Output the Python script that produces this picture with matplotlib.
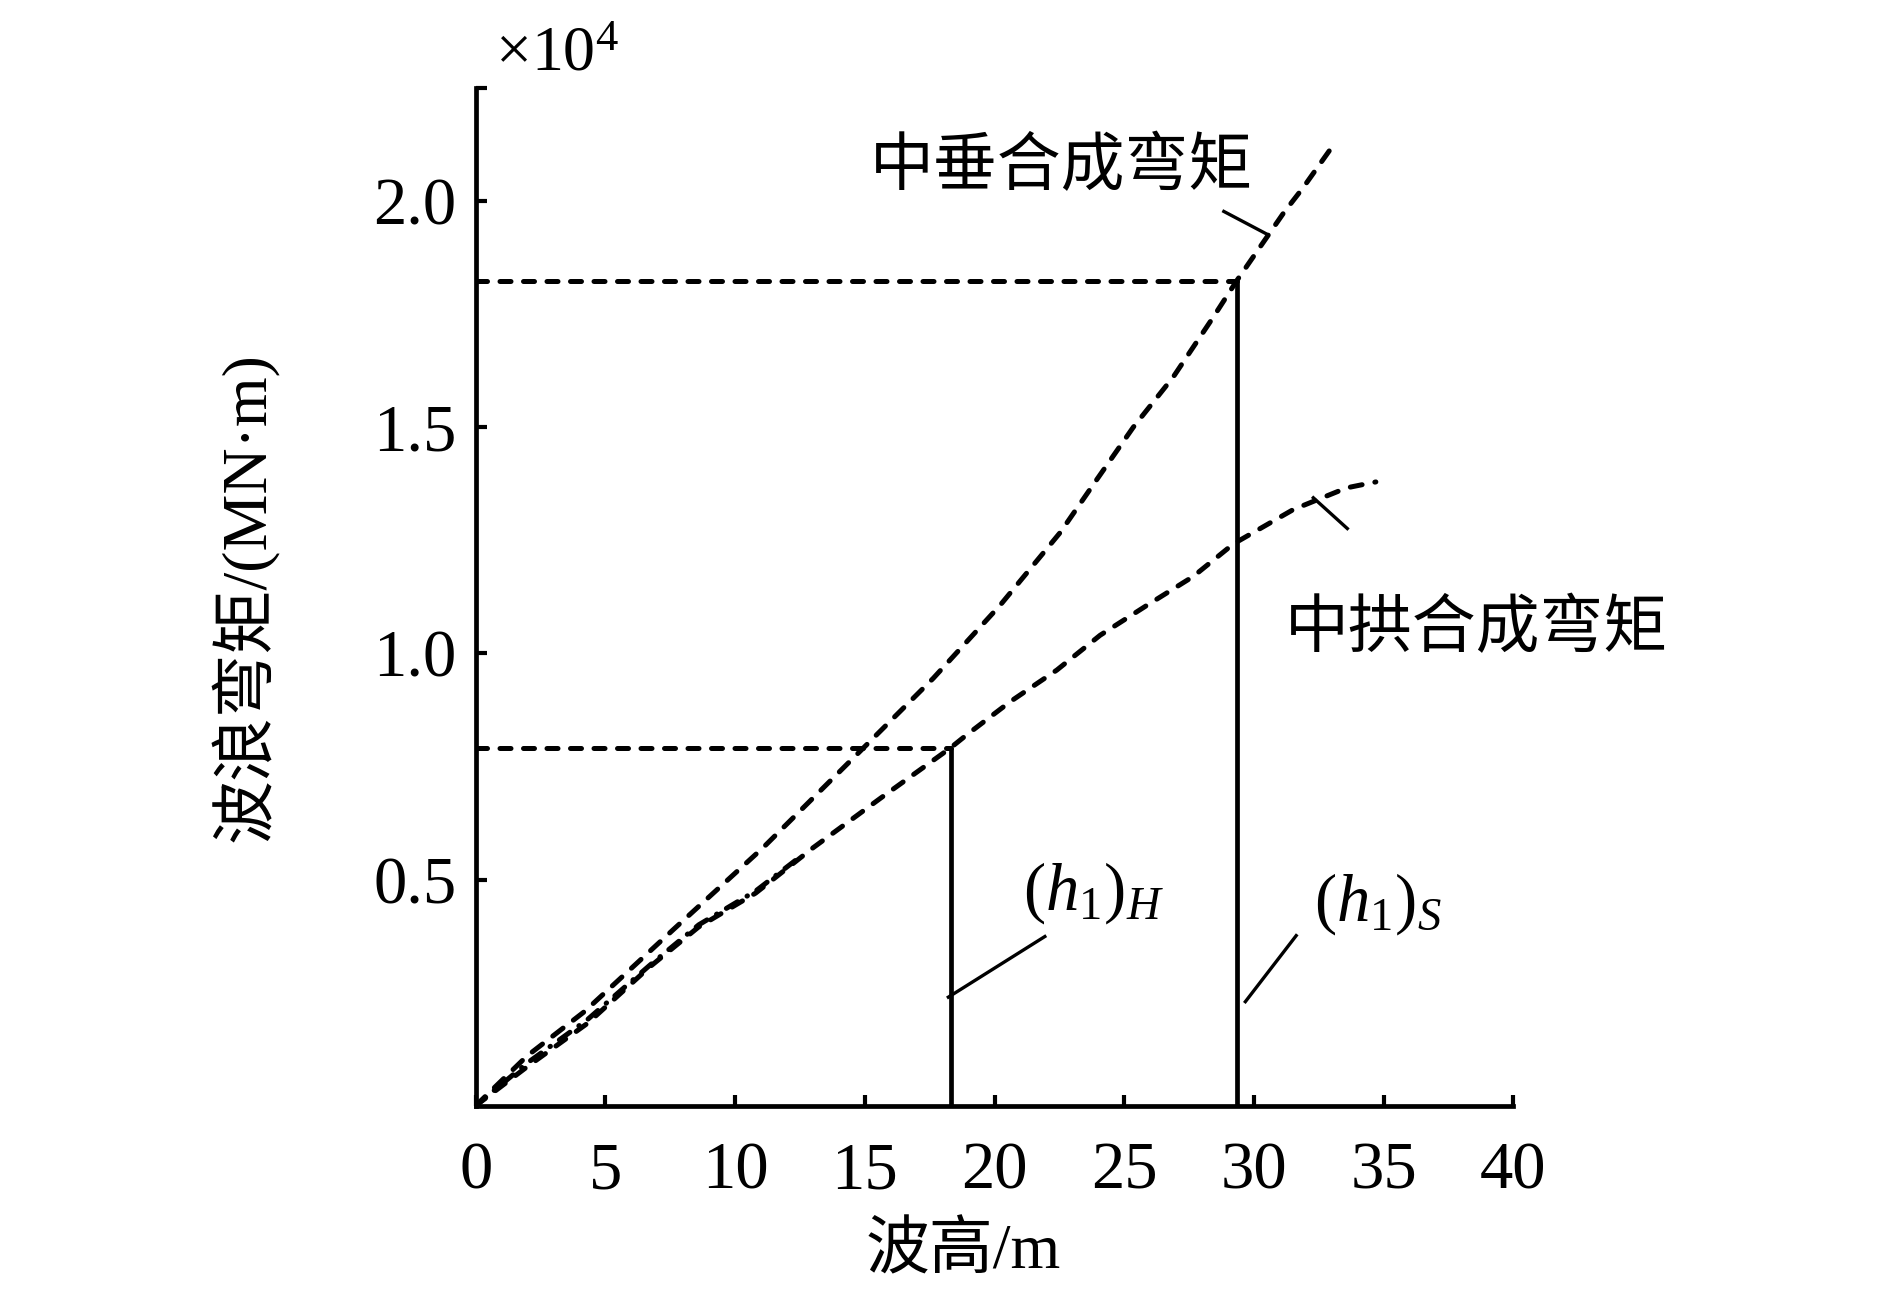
import numpy as np
import matplotlib
matplotlib.use("Agg")
import matplotlib.pyplot as plt

plt.rcParams['font.family'] = ['Liberation Serif', 'Noto Sans CJK SC']
plt.rcParams['mathtext.fontset'] = 'custom'
plt.rcParams['mathtext.rm'] = 'Liberation Serif'
plt.rcParams['mathtext.it'] = 'Liberation Serif:italic'

# 波高 (m) 与 波浪弯矩 (x10^4 MN·m)
sag_x = [0, 1.98, 4.19, 7.63, 11.07, 14.93, 17.64, 20.21, 22.53, 23.94,
         25.35, 26.89, 28.43, 29.34, 31.16, 31.89, 32.93]
sag_y = [0, 0.11, 0.208, 0.39, 0.57, 0.79, 0.945, 1.106, 1.267, 1.384,
         1.5, 1.611, 1.743, 1.824, 1.975, 2.029, 2.113]

hog_x = [0, 1.98, 4.33, 6.67, 8.59, 10.79, 13.0, 15.61, 18.28, 18.93,
         20.6, 22.4, 24.07, 25.87, 27.66, 29.21, 31.52, 33.58, 34.7]
hog_y = [0, 0.086, 0.183, 0.305, 0.395, 0.47, 0.57, 0.68, 0.79, 0.82,
         0.893, 0.963, 1.04, 1.106, 1.17, 1.242, 1.318, 1.366, 1.379]

# 起始段重叠的点划线
hog2_x = [0, 2.0, 4.3, 6.7, 8.6, 10.8, 12.5]
hog2_y = [0, 0.095, 0.19, 0.31, 0.40, 0.475, 0.55]

h1_H = 18.31
M_H = 0.79
h1_S = 29.34
M_S = 1.824

xticks = [0, 5, 10, 15, 20, 25, 30, 35, 40]
yticks = [0.5, 1.0, 1.5, 2.0, 2.25]
ytick_labels = ['0.5', '1.0', '1.5', '2.0', '']

fig = plt.figure(figsize=(18.9, 12.99), dpi=100)
ax = fig.add_axes([0.2517, 0.1488, 0.8007 - 0.2517, 0.9323 - 0.1488])

lw = 3.6
ax.plot(sag_x, sag_y, color='black', lw=lw, dashes=(2.6, 2.6), dash_capstyle='round')
ax.plot(hog_x, hog_y, color='black', lw=lw, dashes=(2.4, 2.6), dash_capstyle='round')
ax.plot(hog2_x, hog2_y, color='black', lw=lw, dashes=(2.6, 2.2, 0.1, 2.2), dash_capstyle='round')

# 参考线
ax.plot([0, h1_H], [M_H, M_H], color='black', lw=lw, dashes=(2.2, 2.5), dash_capstyle='round')
ax.plot([0, h1_S], [M_S, M_S], color='black', lw=lw, dashes=(2.2, 2.5), dash_capstyle='round')
ax.plot([h1_H, h1_H], [0, M_H], color='black', lw=3.4, solid_capstyle='butt')
ax.plot([h1_S, h1_S], [0, M_S], color='black', lw=3.4, solid_capstyle='butt')

# 引线
ax.plot([28.84, 30.46], [1.977, 1.928], color='black', lw=2.4)
ax.plot([32.29, 33.6], [1.344, 1.276], color='black', lw=2.4)
ax.plot([18.22, 21.94], [0.24, 0.374], color='black', lw=2.4)
ax.plot([29.67, 31.63], [0.23, 0.376], color='black', lw=2.4)

ax.text(15.18, 2.07, '中垂合成弯矩', fontsize=46, ha='left', va='center')
ax.text(31.2, 1.05, '中拱合成弯矩', fontsize=46, ha='left', va='center')
ax.text(21.1, 0.47, r'$(h_1)_H$', fontsize=48, ha='left', va='center')
ax.text(32.3, 0.445, r'$(h_1)_S$', fontsize=48, ha='left', va='center')

ax.set_xlim(0, 40)
ax.set_ylim(0, 2.25)
ax.set_xticks(xticks)
ax.set_yticks(yticks)
ax.set_yticklabels(ytick_labels)
ax.spines['top'].set_visible(False)
ax.spines['right'].set_visible(False)
for s in ['left', 'bottom']:
    ax.spines[s].set_linewidth(3.4)
ax.tick_params(direction='in', length=8, width=3.0, labelsize=48)
ax.tick_params(axis='x', pad=26)
ax.tick_params(axis='y', pad=14)

ax.set_xlabel('波高/m', fontsize=46)
ax.xaxis.set_label_coords(0.47, -0.115)
ax.set_ylabel('波浪弯矩/(MN·m)', fontsize=46)
ax.yaxis.set_label_coords(-0.19, 0.5)

fig.text(0.262, 0.946, r'$\times 10^4$', fontsize=46, ha='left', va='baseline')

fig.savefig('out.png', dpi=100)
